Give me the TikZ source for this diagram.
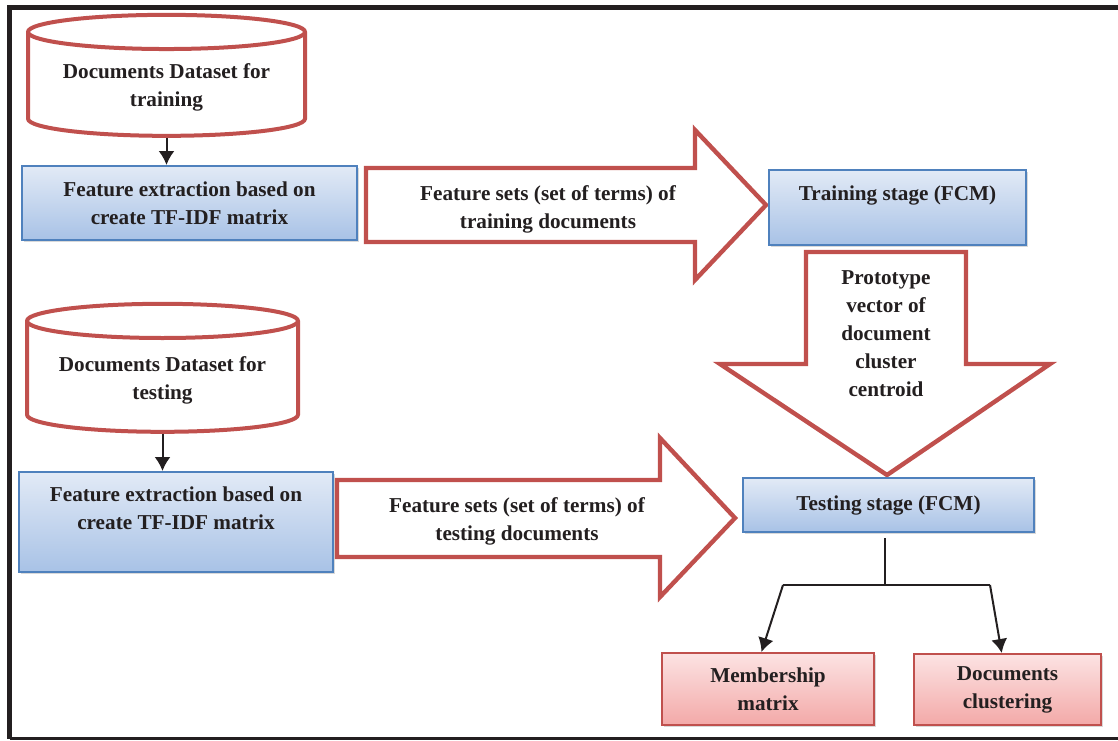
\documentclass[tikz,border=0pt]{standalone}
\usepackage{fontspec}
\setmainfont{Liberation Serif}
\usetikzlibrary{shapes.geometric,arrows.meta,shadows}

\definecolor{redline}{HTML}{C0504D}
\definecolor{blueline}{HTML}{4F81BD}
\definecolor{bluetop}{HTML}{E2EAF6}
\definecolor{bluebot}{HTML}{A8C2E6}
\definecolor{pinktop}{HTML}{FCE3E3}
\definecolor{pinkbot}{HTML}{F3A9A8}
\definecolor{inkgray}{HTML}{231F20}

\begin{document}
\begin{tikzpicture}[x=0.5pt,y=-0.5pt,>={Latex[length=7pt,width=8pt]},
        font=\fontsize{10.6}{14}\selectfont\bfseries,text=inkgray,
        database/.style={cylinder,shape border rotate=90,aspect=0.155,draw=redline,line width=2pt,fill=white,align=center},
        bluebox/.style={draw=blueline,line width=1pt,top color=bluetop,bottom color=bluebot,align=center,
            drop shadow={shadow xshift=0.8pt,shadow yshift=-1.2pt,opacity=0.3}},
        pinkbox/.style={bluebox,draw=redline,top color=pinktop,bottom color=pinkbot},
        blockarrow/.style={draw=redline,line width=2.2pt,fill=white,miter limit=20},
        link/.style={draw=inkgray,line width=1pt}]
        \useasboundingbox (0,0) rectangle (1118,740);
        % frame
        \draw[inkgray,line width=2.5pt] (1120,7.3) -- (9.7,7.3) -- (9.7,738.5);
        \draw[inkgray,line width=1.2pt] (9.7,738.5) -- (1120,738.5);
        % training branch
        \node[database,minimum width=138.5,minimum height=60.5] (dbtrain) at (166.5,87.5) {Documents Dataset for\\training};
        \node[bluebox,minimum width=167.5,minimum height=37] (feattrain) at (189.5,203) {Feature extraction based on\\create TF-IDF matrix};
        \draw[blockarrow] (366,168) -- (695,168) -- (695,130) -- (766,205) -- (695,280) -- (695,242) -- (366,242) -- cycle;
        \node[align=center] (setstrain) at (548,209) {Feature sets (set of terms) of\\training documents};
        \node[bluebox,minimum width=128.5,minimum height=37.5] (trainstage) at (897.5,207.5) {Training stage (FCM)\\ \mbox{}};
        \draw[->,link] (dbtrain.south) -- (dbtrain.south |- feattrain.north);
        % prototype arrow
        \draw[blockarrow] (806,252) -- (966,252) -- (966,364) -- (1050,364) -- (887,475) -- (720,364) -- (806,364) -- cycle;
        \node[align=center] (proto) at (886,334) {Prototype\\vector of\\document\\cluster\\centroid};
        % testing branch
        \node[database,minimum width=135.5,minimum height=64] (dbtest) at (162.5,380) {Documents Dataset for\\testing};
        \node[bluebox,minimum width=157,minimum height=50] (feattest) at (176,522) {Feature extraction based on\\create TF-IDF matrix\\ \mbox{}};
        \draw[blockarrow] (337,480) -- (660,480) -- (660,438) -- (735,518) -- (660,597) -- (660,557) -- (337,557) -- cycle;
        \node[align=center] (setstest) at (517,521) {Feature sets (set of terms) of\\testing documents};
        \node[bluebox,minimum width=145.5,minimum height=27] (teststage) at (888.5,505) {Testing stage (FCM)};
        \draw[->,link] (dbtest.south) -- (dbtest.south |- feattest.north);
        % outputs
        \node[pinkbox,minimum width=106,minimum height=36] (member) at (768,689) {Membership\\matrix};
        \node[pinkbox,minimum width=93.5,minimum height=35.5] (clust) at (1007.5,689.5) {Documents\\clustering};
        \coordinate (split) at (885,585);
        \coordinate (splitl) at (783,585);
        \coordinate (splitr) at (990,585);
        \draw[link,shorten <=2.5pt] (teststage.south -| split) -- (split);
        \draw[link] (splitl) -- (splitr);
        \draw[->,link] (splitl) -- (member.100);
        \draw[->,link] (splitr) -- (clust.99);
    \end{tikzpicture}
\end{document}
